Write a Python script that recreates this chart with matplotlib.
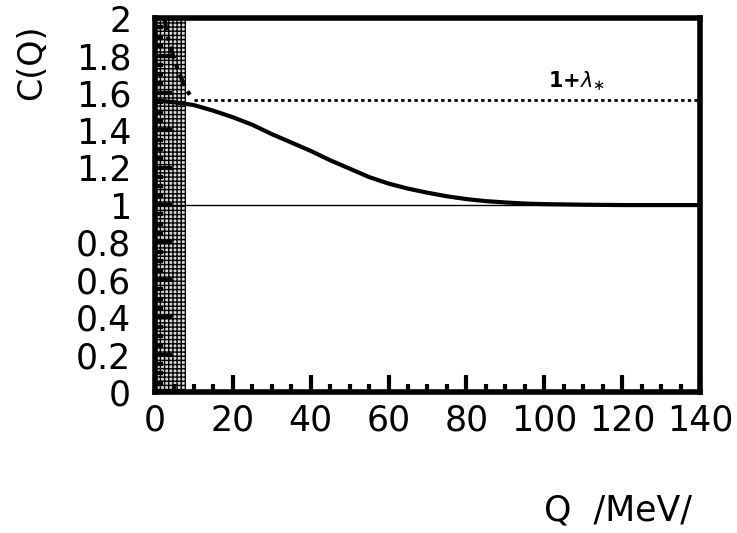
import matplotlib
matplotlib.use("Agg")
import matplotlib.pyplot as plt
from matplotlib.ticker import MultipleLocator

# Data
q_fit = [0, 5, 10, 15, 20, 25, 30, 35, 40, 45, 50, 55, 60, 65, 70, 75, 80, 85, 90, 95, 100, 110, 120, 140]
c_fit = [1.56, 1.55, 1.535, 1.505, 1.47, 1.43, 1.38, 1.335, 1.29, 1.24, 1.195, 1.15, 1.115, 1.088, 1.066, 1.047, 1.032, 1.021, 1.014, 1.008, 1.005, 1.002, 1.0, 1.0]
q_core = [2.5, 3, 4, 5, 6, 7, 8, 9, 10]
c_core = [2.0, 1.93, 1.85, 1.78, 1.72, 1.67, 1.62, 1.59, 1.57]
lambda_level = 1.56
q_dotted = [10, 140]
band = [0, 8]
xticks = [0, 20, 40, 60, 80, 100, 120, 140]
yticks = [0, 0.2, 0.4, 0.6, 0.8, 1, 1.2, 1.4, 1.6, 1.8, 2]
yticklabels = ["0", "0.2", "0.4", "0.6", "0.8", "1", "1.2", "1.4", "1.6", "1.8", "2"]

plt.rcParams['font.family'] = ['DejaVu Sans']
plt.rcParams['hatch.linewidth'] = 1.0

fig = plt.figure(figsize=(7.37, 5.33), dpi=100)
ax = fig.add_axes([0.210, 0.2645, 0.740, 0.7015])

ax.axvspan(band[0], band[1], facecolor='#d8d8d8', edgecolor='black', hatch='++++', linewidth=0, zorder=1)
ax.axhline(1.0, color='black', linewidth=1.0, zorder=2)
ax.plot(q_dotted, [lambda_level] * len(q_dotted), color='black', linestyle=(0, (1.2, 1.2)), linewidth=2, zorder=3)
ax.plot(q_fit, c_fit, color='black', linewidth=3, zorder=4)
ax.plot(q_core, c_core, color='black', linewidth=3, linestyle=(0, (3, 1.5, 1, 1.5)), zorder=4)

ax.text(101, 1.63, r'1+$\lambda_{\ast}$', fontsize=15, ha='left', va='baseline', fontweight='bold')

ax.set_xlim(0, 140)
ax.set_ylim(0, 2)
ax.set_xticks(xticks)
ax.set_yticks(yticks)
ax.set_yticklabels(yticklabels)
ax.xaxis.set_minor_locator(MultipleLocator(5))
ax.yaxis.set_minor_locator(MultipleLocator(0.05))
ax.tick_params(which='both', direction='in', top=False, right=False, labelsize=25, width=3)
ax.tick_params(axis='x', pad=8)
ax.tick_params(axis='y', pad=17)
ax.tick_params(which='major', length=12)
ax.tick_params(which='minor', length=6)
for s in ax.spines.values():
    s.set_linewidth(4)

fig.text(0.0434, 0.884, 'C(Q)', rotation=90, fontsize=24, ha='center', va='center')
fig.text(618 / 737, 0.043, 'Q  /MeV/', fontsize=25, ha='center', va='center')

fig.savefig('out.png', dpi=100)
